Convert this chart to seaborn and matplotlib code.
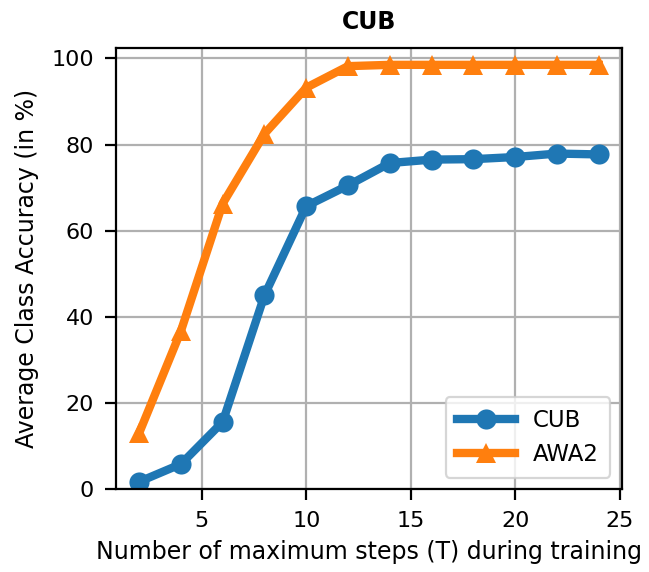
import matplotlib
matplotlib.use("Agg")
import matplotlib.pyplot as plt
import seaborn as sns
import pandas as pd

steps = [2, 4, 6, 8, 10, 12, 14, 16, 18, 20, 22, 24]
cub_acc = [1.7, 5.8, 15.6, 45.0, 65.7, 70.5, 75.7, 76.5, 76.6, 77.1, 77.9, 77.7]
awa2_acc = [13.0, 36.7, 66.3, 82.5, 93.2, 98.2, 98.5, 98.5, 98.5, 98.5, 98.5, 98.5]

df = pd.DataFrame({
    "T": steps * 2,
    "acc": cub_acc + awa2_acc,
    "dataset": ["CUB"] * len(steps) + ["AWA2"] * len(steps),
})

plt.rcParams["font.family"] = ["DejaVu Sans"]
fig = plt.figure(figsize=(6.49, 5.72), dpi=100)
ax = fig.add_axes([0.179, 0.145, 0.779, 0.771])

sns.lineplot(
    data=df, x="T", y="acc", hue="dataset", style="dataset",
    markers={"CUB": "o", "AWA2": "^"}, dashes=False,
    palette={"CUB": "#1f77b4", "AWA2": "#ff7f0e"},
    linewidth=6, markersize=14.5, markeredgewidth=0, ax=ax,
)

ax.set_ylim(0, 102.4)
ax.set_xticks([5, 10, 15, 20, 25])
ax.set_yticks([0, 20, 40, 60, 80, 100])
ax.grid(True, color="#b0b0b0", linewidth=1.6)
ax.set_axisbelow(True)
for s in ax.spines.values():
    s.set_linewidth(1.6)
ax.tick_params(labelsize=16, width=1.6, length=8, pad=8)
ax.set_xlabel("Number of maximum steps (T) during training", fontsize=17, labelpad=6)
ax.set_ylabel("Average Class Accuracy (in %)", fontsize=17, labelpad=9)
ax.set_title("CUB", fontsize=17, fontweight="bold", pad=14)
leg = ax.legend(loc="lower right", fontsize=16.5, handlelength=2.5,
                framealpha=0.8, borderpad=0.5)
leg.get_frame().set_linewidth(1.6)
leg.set_title(None)

fig.savefig("out.png", dpi=100)
